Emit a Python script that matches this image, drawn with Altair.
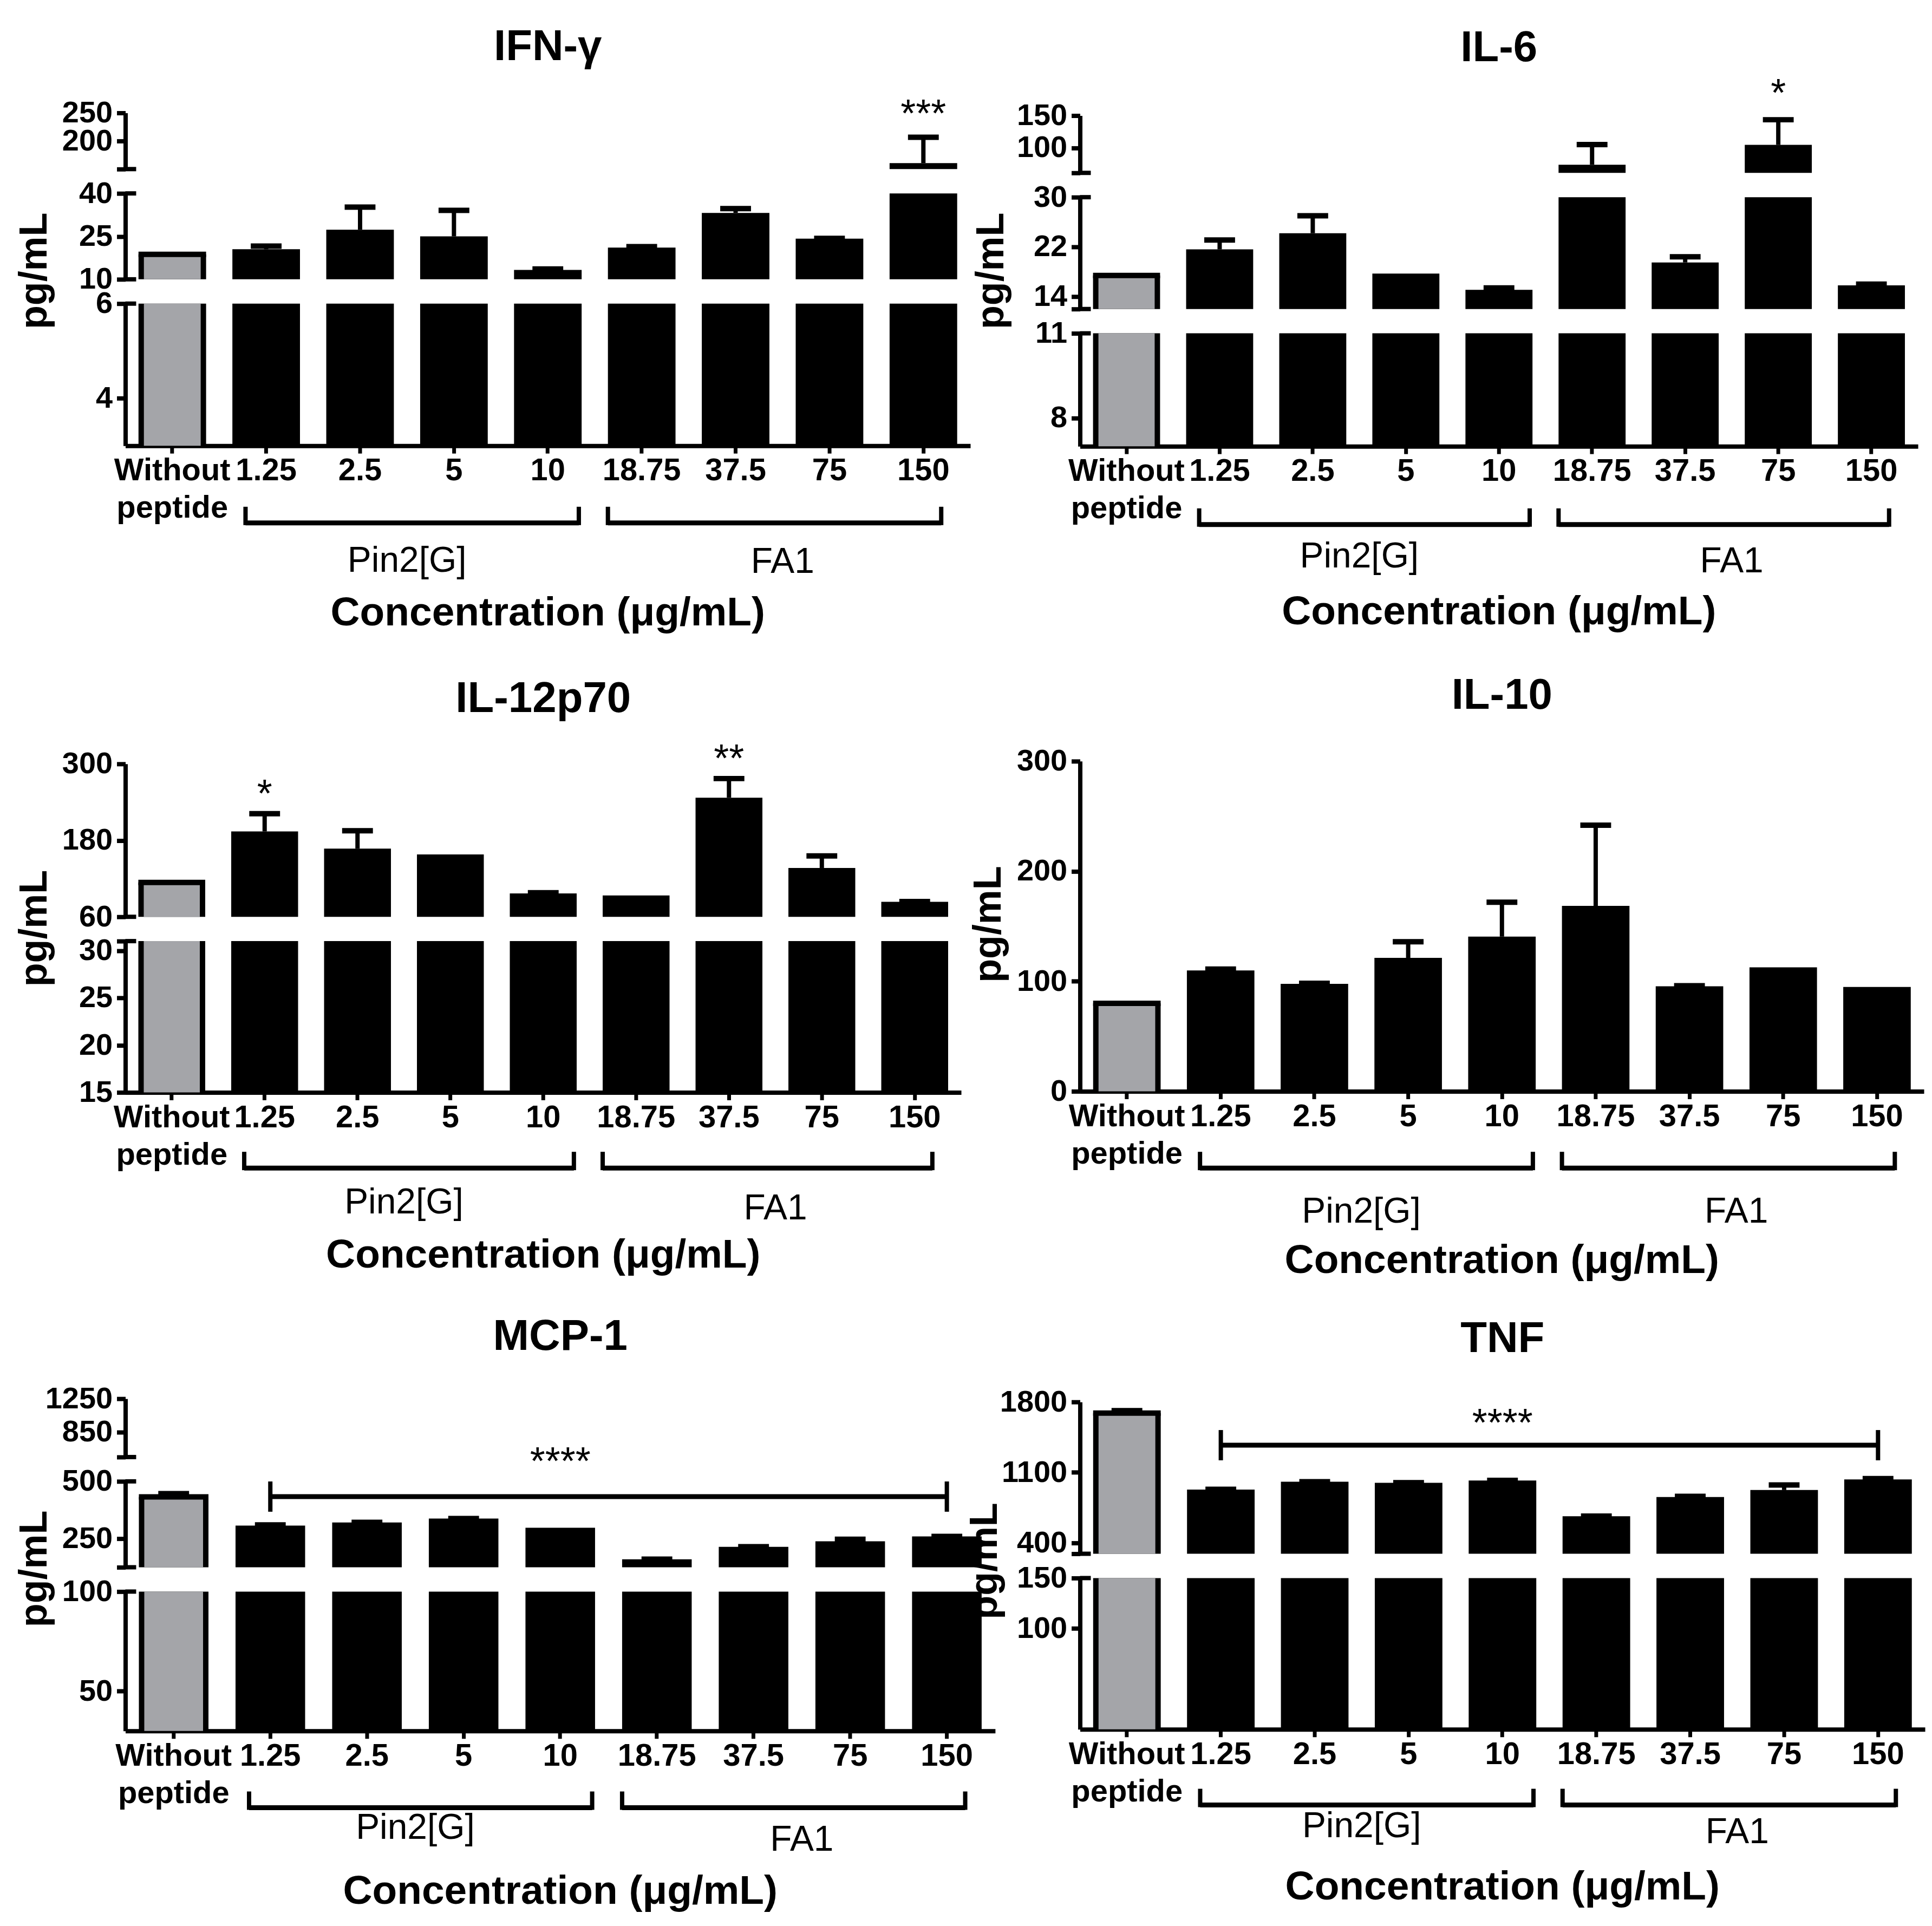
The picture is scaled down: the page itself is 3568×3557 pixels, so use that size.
import altair as alt
import pandas as pd

# ---------------- data ----------------
categories = ["Without peptide", "1.25", "2.5", "5", "10", "18.75", "37.5", "75", "150"]
groups = ["Without peptide", "Pin2[G]", "Pin2[G]", "Pin2[G]", "Pin2[G]", "FA1", "FA1", "FA1", "FA1"]

ifn_mean = [18.7, 20.5, 27.3, 25.0, 13.3, 21.1, 33.2, 24.2, 160.7]
ifn_sem = [0, 1.1, 7.9, 9.1, 0.3, 0.3, 1.5, 0.1, 46.0]
il6_mean = [17.4, 21.6, 24.2, 17.7, 15.1, 73.7, 19.5, 104.5, 15.8]
il6_sem = [0, 1.5, 2.8, 0, 0.3, 31.2, 0.9, 39.1, 0.2]
il12_mean = [114, 194, 167, 158, 96.8, 93.5, 247, 136.7, 83.6]
il12_sem = [0, 27.8, 28.1, 0, 1.0, 0, 30, 18.9, 0.3]
il10_mean = [80, 109.8, 97.6, 121.3, 140.6, 168.5, 95.4, 112.7, 94.8]
il10_sem = [0, 1.3, 0.5, 14.6, 31.2, 73.3, 0.5, 0, 0]
mcp_mean = [432.5, 307, 320.7, 337.5, 297.5, 160, 214, 238.4, 259.5]
mcp_sem = [14, 3, 0.5, 0.5, 0, 0.3, 0.5, 9, 0.5]
tnf_mean = [1689, 928.6, 1005.9, 996, 1018, 663, 854, 924, 1030]
tnf_sem = [24, 3, 1, 1, 2, 1, 7, 50, 7]

# significance marks: (category, label)
ifn_stars = [("150", "***")]
il6_stars = [("75", "*")]
il12_stars = [("1.25", "*"), ("37.5", "**")]
# bracket: (from, to, level, star category, label)
mcp_sig = ("1.25", "150", 433.5, "10", "****")
tnf_sig = ("1.25", "150", 1370, "10", "****")

# broken y axes: (low, high, tick values, labelled values, segment height px)
ifn_segs = [(150, 250, [150, 200, 250], [200, 250], 104),
            (10, 40, [10, 25, 40], [10, 25, 40], 159),
            (3, 6, [4, 6], [4, 6], 263)]
il6_segs = [(61, 150, [61, 100, 150], [100, 150], 106),
            (12, 30, [12, 14, 22, 30], [14, 22, 30], 207),
            (7, 11, [8, 11], [8, 11], 209)]
il12_segs = [(60, 300, [60, 180, 300], [60, 180, 300], 283),
             (15, 31, [15, 20, 25, 30, 31], [15, 20, 25, 30], 280)]
il10_segs = [(0, 300, [0, 100, 200, 300], [0, 100, 200, 300], 611)]
mcp_segs = [(550, 1250, [550, 850, 1250], [850, 1250], 108),
            (125, 500, [125, 250, 500], [250, 500], 159),
            (30, 100, [50, 100], [50, 100], 258)]
tnf_segs = [(290, 1800, [290, 400, 1100, 1800], [400, 1100, 1800], 281),
            (0, 150, [100, 150], [100, 150], 280)]

# ---------------- style / layout ----------------
FONT = "Liberation Sans"
GRAY = "#a4a5a9"
GAP = 45

PANELS = {
    "ifn": dict(title="IFN-γ", mean=ifn_mean, sem=ifn_sem, segs=ifn_segs, stars=ifn_stars, sig=None,
                width=1564, pad=3, title_gap=98, ytx=-146, yty=-16, star_dy=20, br=143,
                grp=(233, 235), xt=333),
    "il6": dict(title="IL-6", mean=il6_mean, sem=il6_sem, segs=il6_segs, stars=il6_stars, sig=None,
                width=1551, pad=8, title_gap=101, ytx=-142, yty=-19, star_dy=25, br=145,
                grp=(224, 233), xt=330),
    "il12": dict(title="IL-12p70", mean=il12_mean, sem=il12_sem, segs=il12_segs, stars=il12_stars,
                 sig=None, width=1547, pad=21, title_gap=96, ytx=-146, yty=0, star_dy=13, br=140,
                 grp=(224, 235), xt=324),
    "il10": dict(title="IL-10", mean=il10_mean, sem=il10_sem, segs=il10_segs, stars=[], sig=None,
                 width=1562, pad=16, title_gap=97, ytx=-147, yty=-4, star_dy=13, br=142,
                 grp=(243, 243), xt=336),
    "mcp": dict(title="MCP-1", mean=mcp_mean, sem=mcp_sem, segs=mcp_segs, stars=[], sig=mcp_sig,
                width=1610, pad=0, title_gap=90, ytx=-146, yty=7, star_dy=41, br=142,
                grp=(200, 222), xt=320),
    "tnf": dict(title="TNF", mean=tnf_mean, sem=tnf_sem, segs=tnf_segs, stars=[], sig=tnf_sig,
                width=1564, pad=6, title_gap=92, ytx=-154, yty=-9, star_dy=17, br=140,
                grp=(200, 211), xt=315),
}

BRACKET_PAD = {"Pin2[G]": (-0.22, 0.33), "FA1": (-0.36, 0.19)}


def y_axis(ticks, labels, title_kw):
    kw = dict(values=ticks, format="d", orient="left",
              labelExpr="indexof(%s, datum.value) >= 0 ? datum.label : ''" % str(labels),
              grid=False, domainColor="black", domainWidth=8, tickColor="black", tickWidth=8,
              tickSize=16, labelFont=FONT, labelFontSize=56, labelFontWeight="bold",
              labelColor="black", labelPadding=8, labelOverlap=False, labelFlush=False,
              labelLimit=0)
    kw.update(title_kw)
    return alt.Axis(**kw)


X_AXIS = alt.Axis(labelExpr="split(datum.label, ' ')", labelAngle=0, labelFont=FONT,
                  labelFontSize=58, labelFontWeight="bold", labelColor="black",
                  labelLineHeight=69, labelPadding=4, labelOverlap=False, labelBound=False,
                  labelLimit=0, labelBaseline="top", tickSize=14, tickWidth=7,
                  tickColor="black", domainWidth=8, domainColor="black", title=None)


def make_panel(key):
    p = PANELS[key]
    W = p["width"]
    step = W / 9.0
    bw = 0.72 * step
    df = pd.DataFrame({"cat": categories, "group": groups, "mean": p["mean"], "sem": p["sem"]})
    df["top"] = df["mean"] + df["sem"]
    segs = p["segs"]
    n = len(segs)
    pad = p["pad"]
    total_h = sum(s[4] for s in segs) + GAP * (n - 1)
    H = pad + total_h

    xsc = alt.Scale(domain=categories, paddingInner=0.28, paddingOuter=0.14)
    xn = alt.X("cat:N", scale=xsc, sort=categories, axis=None)
    layers = []
    cursor = pad
    for i, (lo, hi, ticks, labels, h) in enumerate(segs):
        last = i == n - 1
        rng = [cursor + h, cursor]
        cursor += h + GAP
        if last:
            tkw = dict(title="pg/mL", titleFont=FONT, titleFontSize=72, titleFontWeight="bold",
                       titleColor="black", titleAngle=270, titleAlign="center",
                       titleBaseline="alphabetic", titleX=p["ytx"],
                       titleY=pad + total_h / 2.0 + p["yty"])
        else:
            tkw = dict(title=None)
        ysc = alt.Scale(domain=[lo, hi], range=rng, nice=False, zero=False, clamp=True)
        yax = y_axis(ticks, labels, tkw)
        ym_ax = alt.Y("mean:Q", scale=ysc, axis=yax)
        ym = alt.Y("mean:Q", scale=ysc, axis=None)
        yt = alt.Y("top:Q", scale=ysc, axis=None)
        xa = alt.X("cat:N", scale=xsc, sort=categories, axis=X_AXIS if last else None)
        base = alt.Chart(df)
        in_seg = "datum.top >= %s && datum.top <= %s" % (lo, hi)
        mean_in_seg = "datum.mean >= %s && datum.mean <= %s" % (lo, hi)
        layers += [
            base.mark_bar(size=bw, color="black")
                .encode(x=xa, y=ym_ax, y2=alt.datum(lo)),
            base.transform_filter("datum.group == 'Without peptide'")
                .mark_bar(size=bw - 20, color=GRAY)
                .encode(x=xn, y=ym, y2=alt.datum(lo)),
            base.transform_filter("datum.group == 'Without peptide' && " + mean_in_seg)
                .mark_tick(color="black", opacity=1, size=bw, thickness=10, orient="horizontal")
                .encode(x=xn, y=ym),
            base.transform_filter("datum.sem > 0")
                .mark_rule(color="black", opacity=1, strokeWidth=8)
                .encode(x=xn, y=ym, y2="top:Q"),
            base.transform_filter("datum.sem > 0 && " + in_seg)
                .mark_tick(color="black", opacity=1, size=57, thickness=10, orient="horizontal")
                .encode(x=xn, y=yt),
        ]
        # two-sided caps at the ends of an axis segment
        ends = []
        if n > 1:
            if i > 0:
                ends.append(hi)
            if i < n - 1:
                ends.append(lo)
        if ends:
            layers.append(
                alt.Chart(pd.DataFrame({"top": ends}))
                .mark_rule(color="black", strokeWidth=8)
                .encode(x=alt.value(0), x2=alt.value(20), y=yt))
        # stars above error bars
        for cat, txt in p["stars"]:
            r = df[df["cat"] == cat].iloc[0]
            if lo <= r["top"] <= hi:
                sdf = pd.DataFrame({"cat": [cat], "top": [r["top"]], "txt": [txt]})
                layers.append(
                    alt.Chart(sdf).mark_text(font=FONT, fontSize=72, baseline="alphabetic",
                                             align="center", dy=-p["star_dy"], color="black")
                    .encode(x=xn, y=yt, text="txt:N"))
        # significance bracket spanning several bars
        if p["sig"] is not None:
            a, b, lvl, scat, txt = p["sig"]
            if lo <= lvl <= hi:
                layers.append(
                    alt.Chart(pd.DataFrame({"cat": [a], "cat2": [b], "top": [lvl]}))
                    .mark_rule(color="black", strokeWidth=9)
                    .encode(x=xn, x2="cat2:N", y=yt))
                layers.append(
                    alt.Chart(pd.DataFrame({"cat": [a, b], "top": [lvl, lvl]}))
                    .mark_tick(color="black", opacity=1, orient="vertical", size=56, thickness=8)
                    .encode(x=xn, y=yt))
                layers.append(
                    alt.Chart(pd.DataFrame({"cat": [scat], "top": [lvl], "txt": [txt]}))
                    .mark_text(font=FONT, fontSize=72, baseline="alphabetic", align="center",
                               dy=-p["star_dy"], color="black")
                    .encode(x=xn, y=yt, text="txt:N"))

    # panel title
    layers.append(
        alt.Chart(pd.DataFrame({"t": [p["title"]]}))
        .mark_text(font=FONT, fontSize=80, fontWeight="bold", baseline="alphabetic",
                   align="center", color="black")
        .encode(x=alt.value(W / 2.0), y=alt.value(pad - p["title_gap"]), text="t:N"))

    # group brackets, group names and the x-axis title below the axis
    rows, ends_rows = [], []
    for g, (pl, pr) in BRACKET_PAD.items():
        idx = [k for k, gg in enumerate(groups) if gg == g]
        s, e = min(idx) + pl, max(idx) + pr
        rows.append({"group": g, "start": s, "end": e, "mid": (min(idx) + max(idx)) / 2.0})
        ends_rows += [{"group": g, "pos": s}, {"group": g, "pos": e}]
    bdf = pd.DataFrame(rows)
    edf = pd.DataFrame(ends_rows)
    qx = alt.Scale(domain=[-0.5, 8.5], nice=False, zero=False)
    by = H + p["br"]
    layers += [
        alt.Chart(bdf).mark_rule(color="black", strokeWidth=9)
            .encode(x=alt.X("start:Q", scale=qx, axis=None), x2="end:Q", y=alt.value(by)),
        alt.Chart(edf).mark_rule(color="black", strokeWidth=8)
            .encode(x=alt.X("pos:Q", scale=qx, axis=None), y=alt.value(by - 30),
                    y2=alt.value(by + 4)),
    ]
    for g, gy in zip(["Pin2[G]", "FA1"], p["grp"]):
        layers.append(
            alt.Chart(bdf).transform_filter(alt.datum.group == g)
            .mark_text(font=FONT, fontSize=66, baseline="alphabetic", align="center", color="black")
            .encode(x=alt.X("mid:Q", scale=qx, axis=None), y=alt.value(H + gy), text="group:N"))
    layers.append(
        alt.Chart(pd.DataFrame({"t": ["Concentration (μg/mL)"]}))
        .mark_text(font=FONT, fontSize=75, fontWeight="bold", baseline="alphabetic",
                   align="center", color="black")
        .encode(x=alt.value(W / 2.0), y=alt.value(H + p["xt"]), text="t:N"))

    return alt.layer(*layers).resolve_scale(x="independent", y="independent").properties(
        width=W, height=H)


panels = [make_panel(k) for k in ["ifn", "il6", "il12", "il10", "mcp", "tnf"]]

chart = alt.concat(*panels, columns=2, spacing=alt.RowColnumber(row=567, column=157),
                   bounds="flush", align="each").properties(
    padding={"left": 20, "top": 35, "right": 5, "bottom": 5}).configure(
    font=FONT, view=alt.ViewConfig(stroke=None), background="white")

chart.save("out.html", embed_options={"renderer": "svg", "actions": False})
